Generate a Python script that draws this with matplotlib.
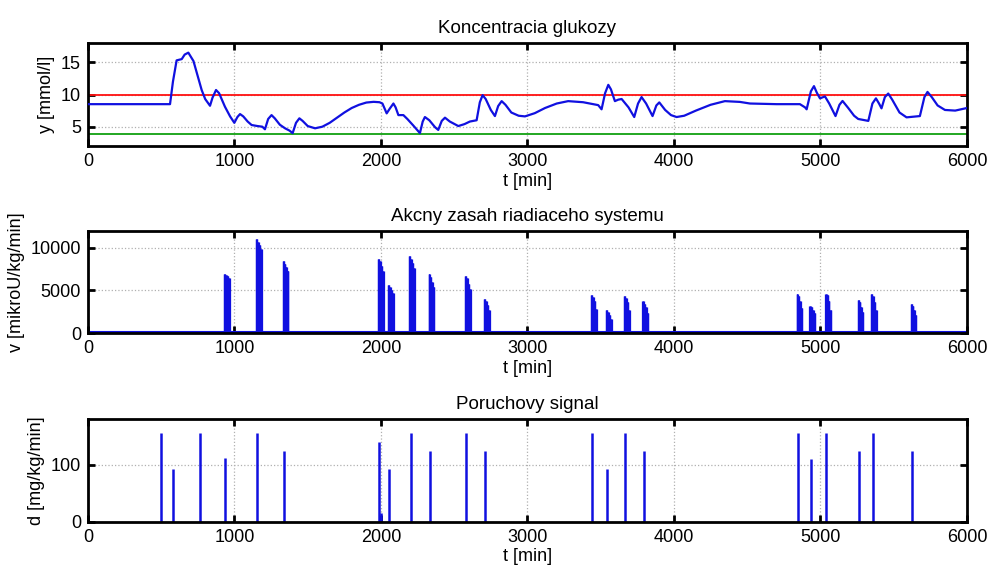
import numpy as np
import matplotlib
matplotlib.use('Agg')
import matplotlib.pyplot as plt

plt.rcParams['font.family'] = ['Liberation Sans', 'DejaVu Sans']

# glucose concentration
t_glu = [0, 560, 580, 605, 640, 660, 685, 720, 750, 776, 800, 833, 850, 874, 895,
         935, 970, 999, 1020, 1038, 1060, 1090, 1117, 1157, 1190, 1208, 1230, 1253,
         1275, 1310, 1345, 1375, 1397, 1420, 1443, 1465, 1500, 1550, 1600, 1650,
         1700, 1750, 1800, 1850, 1900, 1950, 1990, 2010, 2039, 2060, 2085, 2100,
         2119, 2153, 2180, 2220, 2266, 2285, 2300, 2330, 2370, 2391, 2415, 2437,
         2470, 2528, 2570, 2607, 2653, 2675, 2694, 2715, 2750, 2778, 2800, 2824,
         2850, 2890, 2940, 2983, 3050, 3120, 3200, 3278, 3380, 3483, 3506, 3530,
         3552, 3570, 3597, 3620, 3643, 3690, 3729, 3755, 3779, 3810, 3854, 3880,
         3900, 3940, 3980, 4018, 4070, 4150, 4250, 4348, 4450, 4519, 4700, 4860,
         4895, 4906, 4935, 4956, 4975, 4997, 5031, 5060, 5103, 5130, 5151, 5190,
         5230, 5258, 5327, 5355, 5379, 5400, 5417, 5440, 5463, 5490, 5540, 5588,
         5679, 5710, 5731, 5760, 5800, 5850, 5920, 6000]
y_glu = [8.5, 8.5, 12.0, 15.3, 15.5, 16.2, 16.5, 15.2, 12.8, 10.7, 9.3, 8.25, 9.5, 10.7, 10.2,
         8.1, 6.6, 5.6, 6.5, 6.96, 6.6, 5.8, 5.26, 5.1, 5.0, 4.6, 6.2, 6.8,
         6.3, 5.3, 4.75, 4.4, 4.0, 5.6, 6.3, 5.9, 5.1, 4.75, 5.0, 5.6,
         6.4, 7.2, 7.9, 8.4, 8.75, 8.86, 8.8, 8.6, 7.07, 7.8, 8.6, 8.0,
         6.8, 6.8, 6.2, 5.2, 4.0, 5.8, 6.5, 6.0, 4.9, 4.5, 5.9, 6.4,
         5.8, 5.1, 5.4, 5.8, 6.0, 8.8, 9.9, 9.3, 7.6, 6.65, 8.2, 8.97,
         8.4, 7.2, 6.7, 6.6, 7.1, 7.9, 8.6, 8.97, 8.8, 8.35, 7.7, 10.2,
         11.5, 10.8, 8.97, 9.2, 9.3, 8.0, 6.5, 8.6, 9.6, 8.6, 6.65, 8.3,
         8.77, 7.6, 6.8, 6.5, 6.7, 7.5, 8.4, 8.97, 8.85, 8.6, 8.5, 8.5,
         8.0, 7.7, 10.5, 11.3, 10.3, 9.4, 9.7, 8.6, 6.65, 8.4, 9.0, 7.9,
         6.7, 6.2, 5.9, 8.6, 9.4, 8.6, 7.85, 9.6, 10.15, 9.2, 7.2, 6.45,
         6.65, 9.6, 10.4, 9.6, 8.3, 7.6, 7.5, 7.9]
y_upper = 10
y_lower = 3.8

# insulin action: cluster start times and spike heights
v_start = [928, 1147, 1329, 1980, 2048, 2191, 2325, 2573, 2703,
           3433, 3536, 3659, 3784, 4837, 4924, 5033, 5254, 5345, 5616]
v_heights = [
    [6900, 6850, 6700, 6500],
    [11000, 10700, 10300, 9800],
    [8400, 8100, 7700, 7300],
    [8700, 8400, 7900, 7300],
    [5600, 5400, 5100, 4700],
    [9000, 8700, 8200, 7600],
    [6900, 6600, 6000, 5400],
    [6700, 6400, 5800, 5200],
    [4000, 3700, 3300, 2700],
    [4500, 4200, 3800, 2800],
    [2700, 2500, 2100, 1700],
    [4300, 4100, 3600, 2700],
    [3700, 3400, 3000, 2300],
    [4600, 4300, 3700, 2900],
    [3200, 3000, 2700, 2300],
    [4600, 4400, 3700, 2700],
    [3900, 3600, 3100, 2500],
    [4600, 4300, 3600, 2700],
    [3400, 3200, 2700, 2100],
]
v_basal = 120

# disturbance (meals)
t_dist = [498, 578, 767, 937, 1154, 1338, 1987, 2000, 2057, 2203, 2332, 2582, 2712,
          3443, 3543, 3668, 3793, 4846, 4933, 5040, 5261, 5356, 5622]
d_dist = [155, 93, 155, 111, 155, 124, 139, 15, 93, 155, 124, 155, 124,
          155, 93, 155, 124, 155, 109, 155, 124, 155, 124]

blue = '#1010e0'
fig = plt.figure(figsize=(9.92, 5.71), dpi=100)
ax1 = fig.add_axes([0.0887, 0.7443, 0.886, 0.1804])
ax2 = fig.add_axes([0.0887, 0.4168, 0.886, 0.1792])
ax3 = fig.add_axes([0.0887, 0.0863, 0.886, 0.1800])

ax1.plot(t_glu, y_glu, color=blue, lw=1.6, zorder=3)
ax1.axhline(y_upper, color='#ff1010', lw=1.3, zorder=2)
ax1.axhline(y_lower, color='#10a010', lw=1.3, zorder=2)
ax1.set_ylim(2, 18)
ax1.set_yticks([5, 10, 15])
ax1.set_title('Koncentracia glukozy', fontsize=13.5, pad=7)
ax1.set_ylabel('y [mmol/l]', fontsize=13)

ax2.plot([0, 6000], [v_basal, v_basal], color=blue, lw=1.5)
for t0, hs in zip(v_start, v_heights):
    for i, h in enumerate(hs):
        ax2.vlines([t0 + i * 10 + k * 3 for k in range(4)], 0, h, color=blue, lw=0.9)
ax2.set_ylim(0, 12000)
ax2.set_yticks([0, 5000, 10000])
ax2.set_title('Akcny zasah riadiaceho systemu', fontsize=13.5, pad=7)
ax2.set_ylabel('v [mikroU/kg/min]', fontsize=13)

ax3.vlines(t_dist, 0, d_dist, color=blue, lw=1.8)
ax3.set_ylim(0, 180)
ax3.set_yticks([0, 100])
ax3.set_title('Poruchovy signal', fontsize=13.5, pad=7)
ax3.set_ylabel('d [mg/kg/min]', fontsize=13)

for ax in (ax1, ax2, ax3):
    ax.set_xlim(0, 6000)
    ax.set_xticks(range(0, 6001, 1000))
    ax.set_xlabel('t [min]', fontsize=13, labelpad=2)
    ax.grid(True, color='#b0b0b0', ls=':', lw=0.9)
    ax.tick_params(direction='in', top=True, right=True, length=5, width=2,
                   labelsize=13, pad=5)
    for s in ax.spines.values():
        s.set_linewidth(2)

fig.savefig('out.png', dpi=100)
